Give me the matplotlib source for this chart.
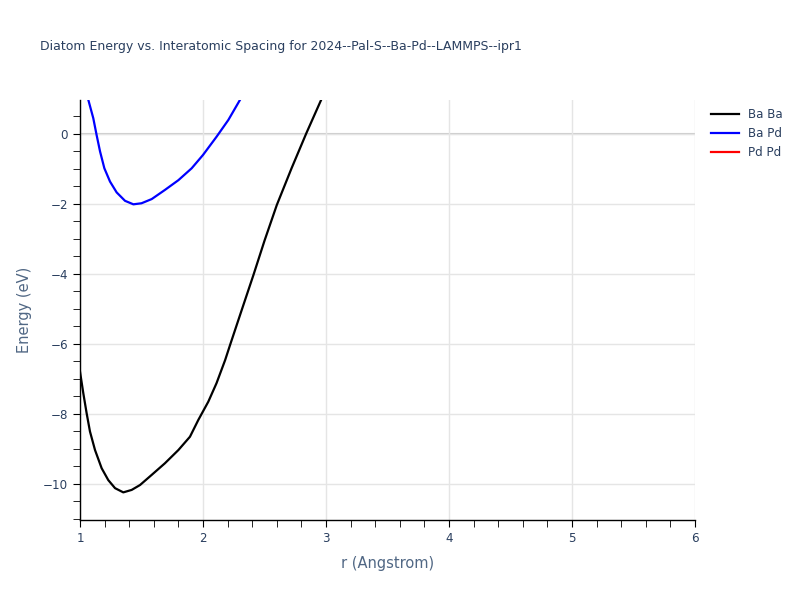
import numpy as np
import matplotlib.pyplot as plt
from matplotlib.ticker import MultipleLocator

# ---- data ----
r_baba = [1.0, 1.027, 1.054, 1.081, 1.122, 1.176, 1.23, 1.285, 1.352, 1.42, 1.488,
          1.583, 1.69, 1.8, 1.894, 1.962, 2.043, 2.11, 2.18, 2.22, 2.31, 2.41,
          2.5, 2.6, 2.72, 2.84, 2.96, 3.02]
e_baba = [-6.79, -7.41, -7.98, -8.5, -9.03, -9.55, -9.89, -10.12, -10.24, -10.17,
          -10.03, -9.74, -9.41, -9.03, -8.65, -8.17, -7.65, -7.12, -6.46, -6.03,
          -5.08, -4.03, -3.05, -2.03, -0.98, 0.02, 0.97, 1.4]

r_bapd = [1.06, 1.068, 1.108, 1.135, 1.163, 1.198, 1.244, 1.298, 1.366, 1.434, 1.5,
          1.583, 1.69, 1.8, 1.908, 2.0, 2.11, 2.206, 2.3, 2.34]
e_bapd = [1.2, 0.97, 0.45, -0.03, -0.5, -0.98, -1.36, -1.67, -1.91, -2.01, -1.98,
          -1.86, -1.6, -1.32, -0.98, -0.6, -0.08, 0.4, 0.97, 1.2]

r_pdpd = []
e_pdpd = []

title = "Diatom Energy vs. Interatomic Spacing for 2024--Pal-S--Ba-Pd--LAMMPS--ipr1"
txt = "#2a3f5f"
lab = "#506784"

fig = plt.figure(figsize=(8, 6), dpi=100)
ax = fig.add_axes([0.1, 0.1333, 0.76875, 0.7])

ax.plot(r_baba, e_baba, color="black", lw=1.6, label="Ba Ba")
ax.plot(r_bapd, e_bapd, color="blue", lw=1.6, label="Ba Pd")
ax.plot(r_pdpd, e_pdpd, color="red", lw=1.6, label="Pd Pd")

ax.set_xlim(1, 6)
ax.set_ylim(-11.03, 0.97)
ax.xaxis.set_major_locator(MultipleLocator(1))
ax.xaxis.set_minor_locator(MultipleLocator(0.2))
ax.yaxis.set_major_locator(MultipleLocator(2))
ax.yaxis.set_minor_locator(MultipleLocator(0.5))

ax.grid(True, which="major", color="#e5e5e5", lw=1)
ax.set_axisbelow(True)
ax.axhline(0, color="#cccccc", lw=1.5, zorder=0.5)

for s in ["top", "right"]:
    ax.spines[s].set_visible(False)
for s in ["left", "bottom"]:
    ax.spines[s].set_color("black")
    ax.spines[s].set_linewidth(1)

ax.tick_params(which="both", direction="out", color="black", labelcolor=txt, labelsize=8.6)
ax.tick_params(which="major", length=5)
ax.tick_params(which="minor", length=5)

ax.set_xlabel("r (Angstrom)", color=lab, fontsize=10.5, labelpad=8)
ax.set_ylabel("Energy (eV)", color=lab, fontsize=10.5, labelpad=8)
fig.text(0.05, 0.923, title, color=txt, fontsize=9.0, va="center", ha="left")

leg = ax.legend(loc="upper left", bbox_to_anchor=(1.013, 1.0), frameon=False,
                fontsize=8.6, handlelength=2.3, labelspacing=0.5, borderaxespad=0.3)
for t in leg.get_texts():
    t.set_color(txt)

fig.savefig("out.png", dpi=100)
